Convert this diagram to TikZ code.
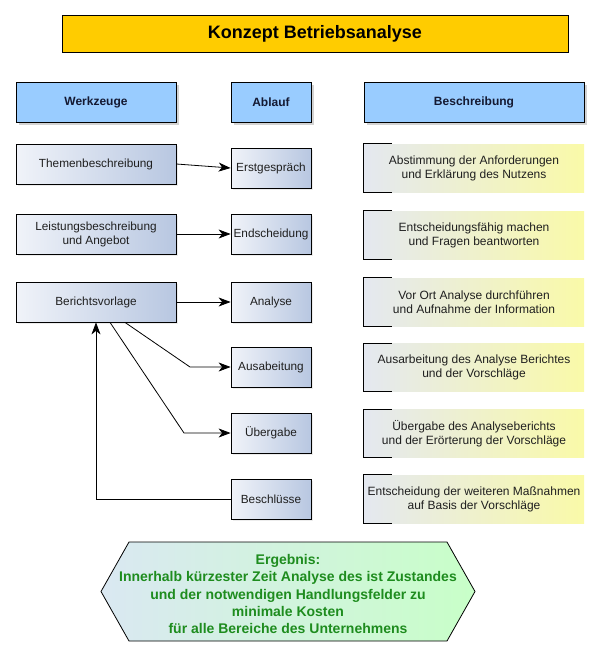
\documentclass[tikz,border=0pt]{standalone}
\usepackage{fontspec}
\setmainfont{Liberation Sans}
\usetikzlibrary{arrows.meta,shadows,calc}

\definecolor{titlefill}{HTML}{FFCC00}
\definecolor{headfill}{HTML}{99CCFF}
\definecolor{boxleft}{RGB}{240,243,249}
\definecolor{boxright}{RGB}{184,199,225}
\definecolor{descleft}{RGB}{228,232,240}
\definecolor{descright}{RGB}{250,250,168}
\definecolor{hexleft}{RGB}{218,232,242}
\definecolor{hexright}{RGB}{200,255,200}
\definecolor{greentext}{RGB}{30,140,30}
\definecolor{headtext}{RGB}{20,25,50}

\begin{document}
\begin{tikzpicture}[x=1pt,y=-1pt,
  titlebox/.style={draw=black, line width=0.9pt, fill=titlefill, minimum width=506pt, minimum height=37pt,
    font=\fontsize{18}{21}\selectfont\bfseries, inner sep=0pt},
  headbox/.style={draw=black, line width=0.8pt, fill=headfill, minimum height=40pt, inner sep=0pt,
    font=\fontsize{12}{14}\selectfont\bfseries, text=headtext,
    drop shadow={shadow xshift=2.5pt, shadow yshift=-2.5pt, opacity=0.35}},
  toolbox/.style={draw=black, line width=0.8pt, left color=boxleft, right color=boxright,
    minimum width=160pt, minimum height=40pt, align=center, inner sep=0pt,
    font=\fontsize{11.8}{14}\selectfont, text=black!88,
    drop shadow={shadow xshift=1.5pt, shadow yshift=-1.5pt, opacity=0.15}},
  stepbox/.style={toolbox, minimum width=80pt},
  descbox/.style={minimum width=220pt, minimum height=48pt, left color=descleft, right color=descright,
    align=center, inner sep=0pt, font=\fontsize{12}{14}\selectfont, text=black!88},
  bracket/.style={line width=0.8pt, draw=black},
  arr/.style={-{Stealth[length=12pt,width=9pt,inset=3.5pt]}, line width=0.8pt},
  greentxt/.style={align=center, text=greentext, font=\fontsize{14}{17.4}\selectfont\bfseries, inner sep=0pt}
]
\useasboundingbox (0,0) rectangle (600,657);

% title
\node[titlebox] (title) at (315,34) {Konzept Betriebsanalyse};

% headers
\node[headbox, minimum width=160pt] (hw) at (96,102) {Werkzeuge};
\node[headbox, minimum width=80pt] (ha) at (271,102) {Ablauf};
\node[headbox, minimum width=220pt] (hb) at (474,102) {Beschreibung};

% tools
\node[toolbox] (them) at (96,164) {Themenbeschreibung};
\node[toolbox] (leist) at (96,234) {Leistungsbeschreibung\\und Angebot};
\node[toolbox] (ber) at (96,302) {Berichtsvorlage};

% steps
\node[stepbox] (erst) at (271,168) {Erstgespräch};
\node[stepbox] (ends) at (271,234) {Endscheidung};
\node[stepbox] (ana) at (271,302) {Analyse};
\node[stepbox] (ausa) at (271,367) {Ausabeitung};
\node[stepbox] (ueb) at (271,433) {Übergabe};
\node[stepbox] (beschl) at (271,499) {Beschlüsse};

% descriptions
\node[descbox] (d1) at (474,168) {Abstimmung der Anforderungen\\und Erklärung des Nutzens};
\node[descbox] (d2) at (474,235) {Entscheidungsfähig machen\\und Fragen beantworten};
\node[descbox] (d3) at (474,302) {Vor Ort Analyse durchführen\\und Aufnahme der Information};
\node[descbox] (d4) at (474,367.5) {Ausarbeitung des Analyse Berichtes\\und der Vorschläge};
\node[descbox] (d5) at (474,433.5) {Übergabe des Analyseberichts\\und der Erörterung der Vorschläge};
\node[descbox] (d6) at (474,499) {Entscheidung der weiteren Maßnahmen\\auf Basis der Vorschläge};
\foreach \d in {d1,d2,d3,d4,d5,d6}{
  \draw[bracket] ([xshift=28pt]\d.north west) -- (\d.north west) -- (\d.south west) -- ([xshift=28pt]\d.south west);
}

% connectors
\draw[arr] (them.east) -- (erst.west);
\draw[arr] (leist.east) -- (ends.west);
\draw[arr] (ber.east) -- (ana.west);
\coordinate (k1) at (190,367);
\coordinate (k2) at (184,433);
\coordinate (k3) at (96,499);
\draw[arr] ([xshift=29pt]ber.south) -- (k1) -- (ausa.west);
\draw[arr] ([xshift=14pt]ber.south) -- (k2) -- (ueb.west);
\draw[arr] (beschl.west) -- (k3) -- (ber.south);

% result hexagon
\shadedraw[left color=hexleft, right color=hexright, draw=black, line width=0.8pt]
  (101,591.5) -- (129,542) -- (447,542) -- (475,591.5) -- (447,641) -- (129,641) -- cycle;
\node[greentxt] (erg) at (288,594) {Ergebnis:\\Innerhalb kürzester Zeit Analyse des ist Zustandes\\und der notwendigen Handlungsfelder zu\\minimale Kosten\\für alle Bereiche des Unternehmens};
\end{tikzpicture}
\end{document}
